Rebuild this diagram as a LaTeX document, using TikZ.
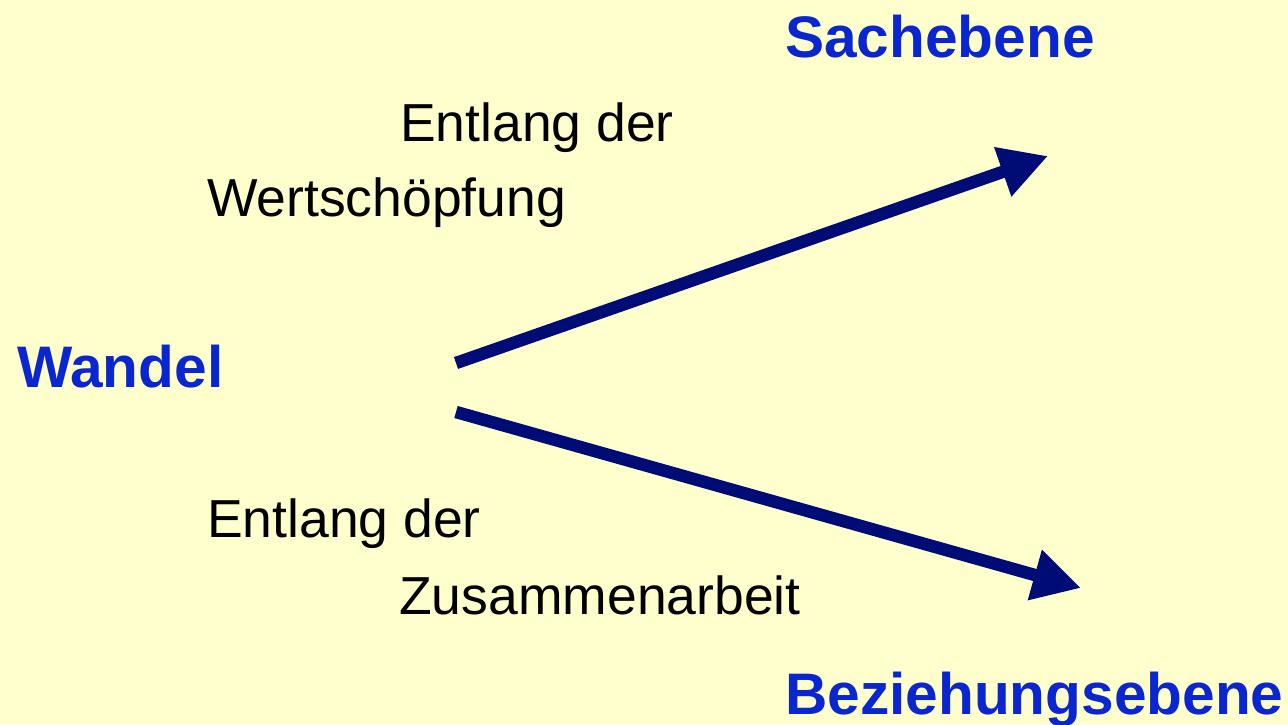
\documentclass[tikz,border=0pt]{standalone}
\usepackage{fontspec}
\setmainfont{Liberation Sans}
\usetikzlibrary{arrows.meta}
\definecolor{bgyellow}{RGB}{255,255,206}
\definecolor{headblue}{RGB}{10,38,208}
\definecolor{arrownavy}{RGB}{0,12,118}
\tikzset{
  level/.style={anchor=base west, inner sep=0pt, text=headblue,
    font=\fontsize{58.6}{60}\selectfont\bfseries},
  caption/.style={anchor=base west, inner sep=0pt, text=black,
    font=\fontsize{53.5}{56}\selectfont},
  bigarrow/.style={draw=arrownavy, line width=12.5pt,
    -{Triangle[length=48pt,width=49pt]}}
}
\begin{document}
\begin{tikzpicture}[x=1pt,y=-1pt]
  \fill[bgyellow] (0,0) rectangle (1288,724);
  \useasboundingbox (0,0) rectangle (1288,724);

  % levels
  \node[level] (wandel) at (17,387) {Wandel};
  \node[level] (sache) at (785,57) {Sachebene};
  \node[level] (bez) at (785,714) {Beziehungsebene};

  % captions
  \node[caption] (wert1) at (400,141) {Entlang der};
  \node[caption] (wert2) at (207,216) {Wertschöpfung};
  \node[caption] (zus1) at (207,537) {Entlang der};
  \node[caption] (zus2) at (399,614) {Zusammenarbeit};

  % arrows
  \coordinate (startA) at (456,363);
  \coordinate (tipA) at (1048,156);
  \coordinate (startB) at (456,412);
  \coordinate (tipB) at (1081,588);
  \draw[bigarrow] (startA) -- (tipA);
  \draw[bigarrow] (startB) -- (tipB);
\end{tikzpicture}
\end{document}
